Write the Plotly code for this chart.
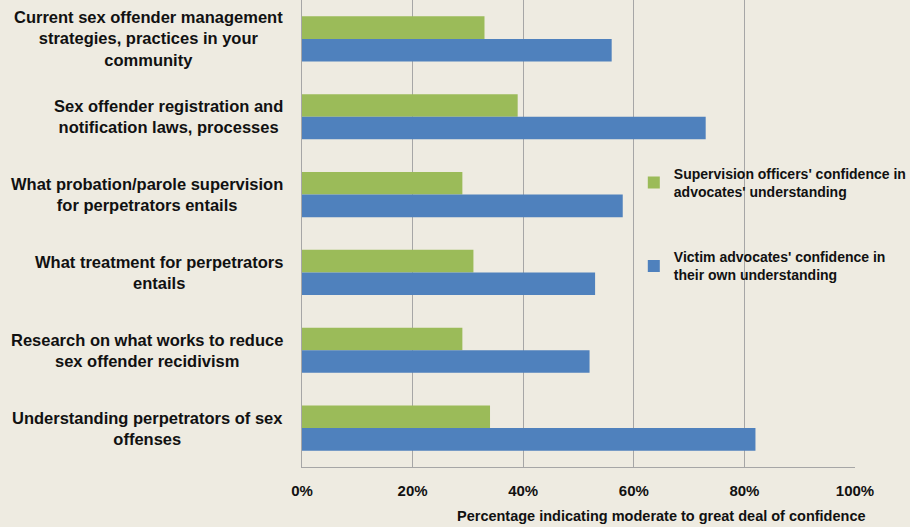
import plotly.graph_objects as go

categories = [
    "Current sex offender management<br>strategies, practices in your<br>community",
    "Sex offender registration and<br>notification laws, processes",
    "What probation/parole supervision<br>for perpetrators entails",
    "What treatment for perpetrators<br>entails",
    "Research on what works to reduce<br>sex offender recidivism",
    "Understanding perpetrators of sex<br>offenses",
]
officers = [33, 39, 29, 31, 29, 34]
advocates = [56, 73, 58, 53, 52, 82]
series_names = [
    "Supervision officers' confidence in<br>advocates' understanding",
    "Victim advocates' confidence in<br>their own understanding",
]
x_ticks = [0, 20, 40, 60, 80, 100]
x_ticktext = ["0%", "20%", "40%", "60%", "80%", "100%"]
x_title = "Percentage indicating moderate to great deal of confidence"

BG = "#EEEBE1"
FONT = "Liberation Sans"
fig = go.Figure()
fig.add_trace(go.Bar(y=categories, x=officers, orientation="h", name=series_names[0],
                     marker=dict(color="#9BBB59", line=dict(width=0)), legendgroup="a"))
fig.add_trace(go.Bar(y=categories, x=advocates, orientation="h", name=series_names[1],
                     marker=dict(color="#4F81BD", line=dict(width=0)), legendgroup="b"))

for c in categories:
    fig.add_annotation(x=-0.03, xref="paper", y=c, yref="y", text=c, showarrow=False,
                       xanchor="right", yanchor="middle", align="center",
                       font=dict(family=FONT, size=16.5, color="#111", weight="bold"))

fig.add_annotation(x=0.65, xref="paper", y=-0.105, yref="paper", text=x_title,
                   showarrow=False, xanchor="center", yanchor="middle",
                   font=dict(family=FONT, size=14.5, color="#111", weight="bold"))

fig.update_layout(
    width=910, height=527,
    paper_bgcolor=BG, plot_bgcolor=BG,
    margin=dict(l=302, r=55, t=0, b=60, autoexpand=False),
    barmode="group", bargap=0.42, bargroupgap=0,
    showlegend=True,
    legend=dict(x=0.60, y=0.662, xanchor="left", yanchor="top", bgcolor="rgba(0,0,0,0)",
                font=dict(family=FONT, size=14, color="#111", weight="bold"),
                tracegroupgap=44, itemwidth=30),
    xaxis=dict(range=[0, 100], tickvals=x_ticks, ticktext=x_ticktext, showgrid=True,
               gridcolor="#A6A6A6", gridwidth=1, zeroline=False, showline=True,
               linecolor="#A6A6A6", linewidth=1, ticks="",
               tickfont=dict(family=FONT, size=15, color="#111", weight="bold"),
               ticklabelstandoff=10),
    yaxis=dict(autorange="reversed", showticklabels=False, showgrid=False,
               showline=True, linecolor="#A6A6A6", linewidth=1, ticks="", zeroline=False),
)
fig.write_html("out.html", config={"displayModeBar": False},
               post_script="document.body.style.margin='0';document.body.style.overflow='hidden';")
